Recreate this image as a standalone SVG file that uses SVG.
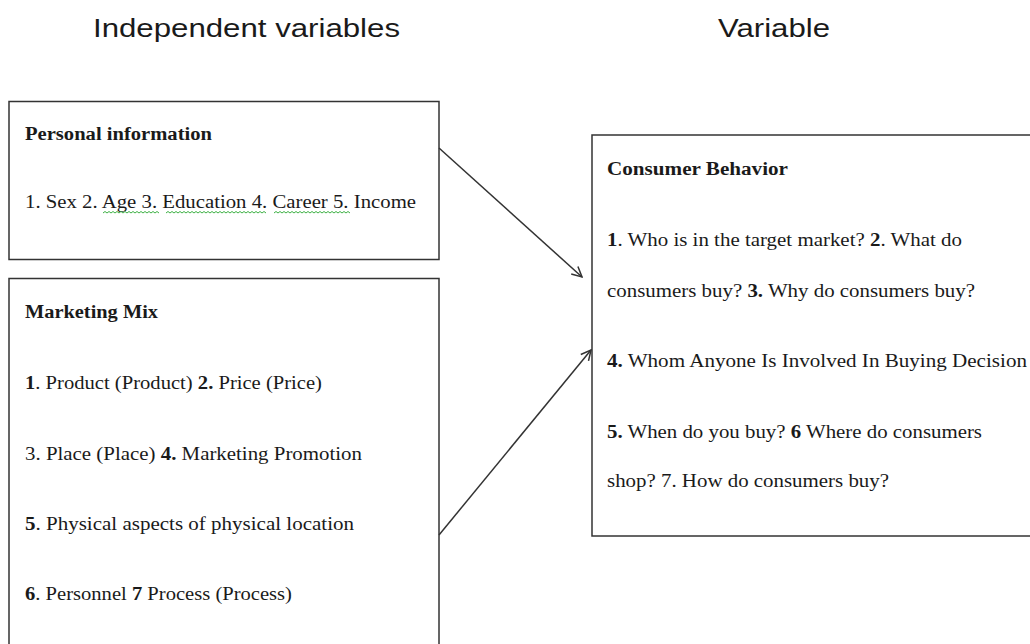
<svg xmlns="http://www.w3.org/2000/svg" width="1030" height="644" viewBox="0 0 1030 644">
<style>
.title{font-family:"Liberation Sans",Arial,sans-serif;font-size:26px;fill:#1a1a1a}
.t{font-family:"Liberation Serif","Times New Roman",Times,serif;font-size:18px;fill:#1a1a1a}
.b{font-weight:bold}
.box{fill:#fff;stroke:#333;stroke-width:1.5}
.conn{stroke:#333;stroke-width:1.5;fill:none}
.sq{stroke:#3cb043;stroke-width:1;fill:none}
</style>
<defs>
<marker id="arr" viewBox="0 0 12 12" refX="11" refY="6" markerWidth="12" markerHeight="12" markerUnits="userSpaceOnUse" orient="auto">
<path d="M1,1 L11,6 L1,11" fill="none" stroke="#333" stroke-width="1.5"/>
</marker>
</defs>
<rect width="1030" height="644" fill="#fff"/>
<text class="title" x="93" y="37" textLength="307" lengthAdjust="spacingAndGlyphs">Independent variables</text>
<text class="title" x="718" y="37" textLength="112" lengthAdjust="spacingAndGlyphs">Variable</text>

<g id="personal">
<rect class="box" x="9" y="101.5" width="430" height="158"/>
<text class="t b" x="25" y="140" textLength="187" lengthAdjust="spacingAndGlyphs">Personal information</text>
<text class="t" x="25" y="208" textLength="391" lengthAdjust="spacingAndGlyphs">1. Sex 2. Age 3. Education 4. Career 5. Income</text>
<path class="sq" d="M103,213 l2,-1.5 l2,1.5 l2,-1.5 l2,1.5 l2,-1.5 l2,1.5 l2,-1.5 l2,1.5 l2,-1.5 l2,1.5 l2,-1.5 l2,1.5 l2,-1.5 l2,1.5 l2,-1.5 l2,1.5 l2,-1.5 l2,1.5 l2,-1.5 l2,1.5 l2,-1.5 l2,1.5 l2,-1.5 l2,1.5 l2,-1.5 l2,1.5 l2,-1.5 l2,1.5"/>
<path class="sq" d="M166,213 l2,-1.5 l2,1.5 l2,-1.5 l2,1.5 l2,-1.5 l2,1.5 l2,-1.5 l2,1.5 l2,-1.5 l2,1.5 l2,-1.5 l2,1.5 l2,-1.5 l2,1.5 l2,-1.5 l2,1.5 l2,-1.5 l2,1.5 l2,-1.5 l2,1.5 l2,-1.5 l2,1.5 l2,-1.5 l2,1.5 l2,-1.5 l2,1.5 l2,-1.5 l2,1.5 l2,-1.5 l2,1.5 l2,-1.5 l2,1.5 l2,-1.5 l2,1.5 l2,-1.5 l2,1.5 l2,-1.5 l2,1.5 l2,-1.5 l2,1.5 l2,-1.5 l2,1.5 l2,-1.5 l2,1.5 l2,-1.5 l2,1.5 l2,-1.5 l2,1.5 l2,-1.5 l2,1.5"/>
<path class="sq" d="M274,213 l2,-1.5 l2,1.5 l2,-1.5 l2,1.5 l2,-1.5 l2,1.5 l2,-1.5 l2,1.5 l2,-1.5 l2,1.5 l2,-1.5 l2,1.5 l2,-1.5 l2,1.5 l2,-1.5 l2,1.5 l2,-1.5 l2,1.5 l2,-1.5 l2,1.5 l2,-1.5 l2,1.5 l2,-1.5 l2,1.5 l2,-1.5 l2,1.5 l2,-1.5 l2,1.5 l2,-1.5 l2,1.5 l2,-1.5 l2,1.5 l2,-1.5 l2,1.5 l2,-1.5 l2,1.5 l2,-1.5 l2,1.5"/>
</g>

<g id="marketing">
<rect class="box" x="9" y="278.5" width="430" height="380"/>
<text class="t b" x="25" y="318" textLength="133" lengthAdjust="spacingAndGlyphs">Marketing Mix</text>
<text class="t" x="25" y="389" textLength="297" lengthAdjust="spacingAndGlyphs"><tspan class="b">1</tspan>. Product (Product) <tspan class="b">2.</tspan> Price (Price)</text>
<text class="t" x="25" y="460" textLength="337" lengthAdjust="spacingAndGlyphs">3. Place (Place) <tspan class="b">4.</tspan> Marketing Promotion</text>
<text class="t" x="25" y="530" textLength="329" lengthAdjust="spacingAndGlyphs"><tspan class="b">5</tspan>. Physical aspects of physical location</text>
<text class="t" x="25" y="600" textLength="267" lengthAdjust="spacingAndGlyphs"><tspan class="b">6</tspan>. Personnel <tspan class="b">7</tspan> Process (Process)</text>
</g>

<g id="consumer">
<rect class="box" x="592" y="135" width="460" height="401"/>
<text class="t b" x="607" y="175" textLength="181" lengthAdjust="spacingAndGlyphs">Consumer  Behavior</text>
<text class="t" x="607" y="246" textLength="355" lengthAdjust="spacingAndGlyphs"><tspan class="b">1</tspan>. Who is in the target market? <tspan class="b">2</tspan>. What do</text>
<text class="t" x="607" y="297" textLength="368" lengthAdjust="spacingAndGlyphs">consumers buy? <tspan class="b">3.</tspan> Why do consumers buy?</text>
<text class="t" x="607" y="367" textLength="420" lengthAdjust="spacingAndGlyphs"><tspan class="b">4.</tspan> Whom Anyone Is Involved In Buying Decision</text>
<text class="t" x="607" y="438" textLength="375" lengthAdjust="spacingAndGlyphs"><tspan class="b">5.</tspan> When do you buy? <tspan class="b">6</tspan> Where do consumers</text>
<text class="t" x="607" y="487" textLength="282" lengthAdjust="spacingAndGlyphs">shop? 7. How do consumers buy?</text>
</g>

<g id="connectors">
<line class="conn" x1="439" y1="148" x2="582" y2="277" marker-end="url(#arr)"/>
<line class="conn" x1="439" y1="535" x2="591" y2="350" marker-end="url(#arr)"/>
</g>
</svg>
